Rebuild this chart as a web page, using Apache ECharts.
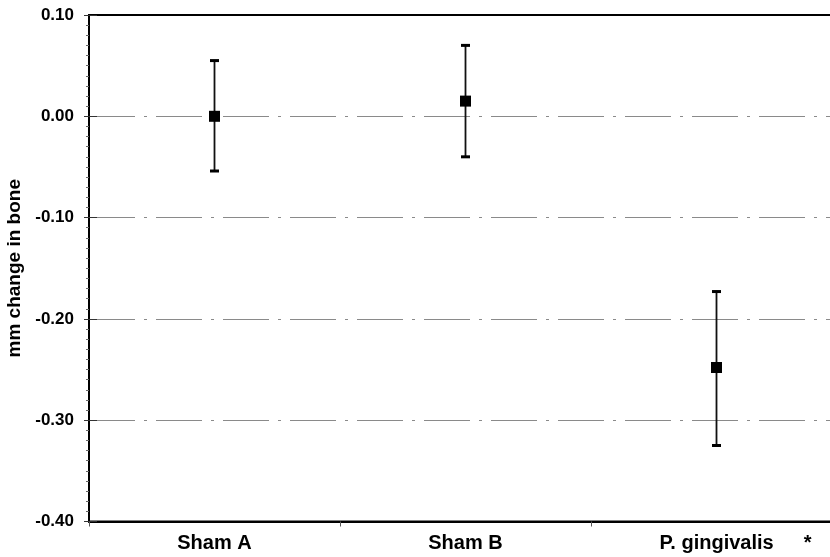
<!DOCTYPE html>
<html>
<head>
<meta charset="utf-8">
<script src="https://cdn.jsdelivr.net/npm/echarts@6/dist/echarts.min.js"></script>
<style>html,body{margin:0;padding:0;background:#fff}#c{width:830px;height:557px}</style>
</head>
<body>
<div id="c"></div>
<script>
const categories = ['Sham A', 'Sham B', 'P. gingivalis'];
const significance = ['', '', '*'];
const means = [0.000, 0.015, -0.248];
const upper = [0.055, 0.070, -0.173];
const lower = [-0.054, -0.040, -0.325];
const yMin = -0.4, yMax = 0.1, yStep = 0.1;

const FONT = '"Liberation Sans", Arial, sans-serif';
const chart = echarts.init(document.getElementById('c'), null, {renderer: 'canvas'});

const errData = categories.map((c, i) => [i, means[i], upper[i], lower[i]]);

chart.setOption({
  animation: false,
  backgroundColor: '#fff',
  grid: {left: 89, top: 15, width: 753, height: 506.5, outerBoundsMode: 'none', containLabel: false,
         show: true, borderColor: '#000', borderWidth: 2, backgroundColor: 'transparent'},
  xAxis: {
    type: 'category',
    data: categories,
    boundaryGap: true,
    axisLine: {onZero: false, lineStyle: {color: '#000', width: 2}},
    axisTick: {show: true, length: 5, lineStyle: {color: '#555', width: 1}},
    axisLabel: {
      margin: 12,
      fontFamily: FONT, fontWeight: 'bold', fontSize: 20, color: '#000',
      formatter: function (v, i) {
        return significance[i] ? '{a|' + v + '}{s|' + significance[i] + '}' : '{b|' + v + '}';
      },
      rich: {
        a: {fontFamily: FONT, fontWeight: 'bold', fontSize: 20, color: '#000', padding: [0, 0, 0, 38]},
        b: {fontFamily: FONT, fontWeight: 'bold', fontSize: 20, color: '#000'},
        s: {fontFamily: FONT, fontWeight: 'bold', fontSize: 20, color: '#000', padding: [0, 0, 0, 30]}
      }
    },
    splitLine: {show: false}
  },
  yAxis: [{
    type: 'value',
    min: yMin, max: yMax, interval: yStep,
    name: 'mm change in bone',
    nameLocation: 'middle',
    nameGap: 58,
    nameTextStyle: {fontFamily: FONT, fontWeight: 'bold', fontSize: 19, color: '#000'},
    axisLine: {show: true, onZero: false, lineStyle: {color: '#000', width: 2}},
    axisTick: {show: true, length: 5, lineStyle: {color: '#333', width: 1}},
    minorTick: {show: true, splitNumber: 10, length: 3, lineStyle: {color: '#666', width: 1}},
    axisLabel: {
      margin: 15,
      fontFamily: FONT, fontWeight: 'bold', fontSize: 17, color: '#000',
      formatter: v => v.toFixed(2)
    },
    splitLine: {show: true, showMinLine: false, showMaxLine: false, lineStyle: {color: '#8a8a8a', width: 1.2, type: [46, 9, 3, 9]}}
  }, {
    type: 'value',
    position: 'left',
    min: yMin, max: yMax, interval: yStep,
    axisLine: {show: false, onZero: false},
    axisTick: {show: true, inside: true, length: 8, lineStyle: {color: '#333', width: 1}},
    axisLabel: {show: false},
    splitLine: {show: false}
  }],
  series: [{
    type: 'custom',
    yAxisIndex: 0,
    data: errData,
    renderItem: function (params, api) {
      const x = api.value(0);
      const top = api.coord([x, api.value(2)]);
      const bot = api.coord([x, api.value(3)]);
      const mid = api.coord([x, api.value(1)]);
      const cw = 4.5, ms = 11;
      const st = {stroke: '#111', lineWidth: 1.8};
      const capSt = {stroke: '#000', lineWidth: 3};
      return {
        type: 'group',
        children: [
          {type: 'line', shape: {x1: top[0], y1: top[1], x2: bot[0], y2: bot[1]}, style: st},
          {type: 'line', shape: {x1: top[0] - cw, y1: top[1], x2: top[0] + cw, y2: top[1]}, style: capSt},
          {type: 'line', shape: {x1: bot[0] - cw, y1: bot[1], x2: bot[0] + cw, y2: bot[1]}, style: capSt},
          {type: 'rect', shape: {x: mid[0] - ms / 2, y: mid[1] - ms / 2, width: ms, height: ms}, style: {fill: '#000'}}
        ]
      };
    }
  }]
});
</script>
</body>
</html>
